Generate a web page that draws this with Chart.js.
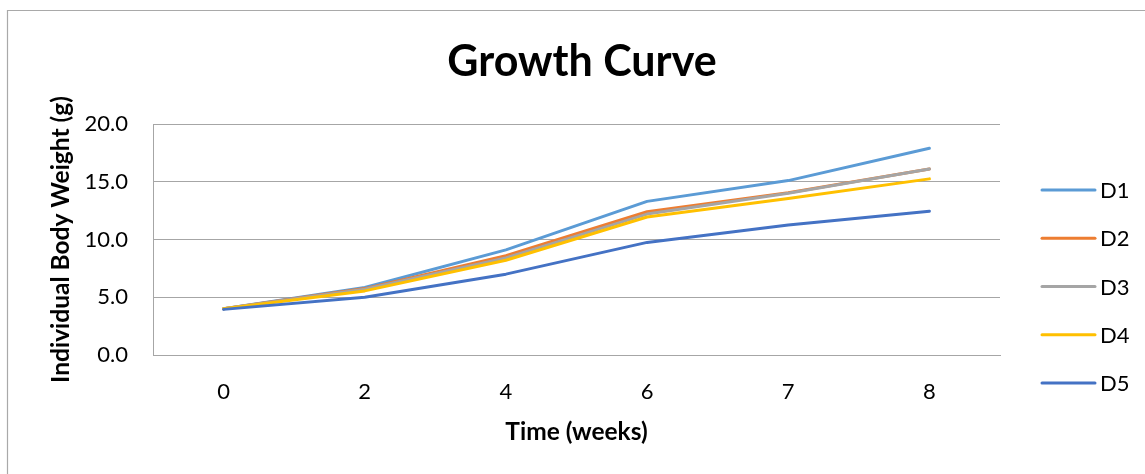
<!DOCTYPE html>
<html>
<head>
<meta charset="utf-8">
<title>Growth Curve</title>
<script src="https://cdn.jsdelivr.net/npm/chart.js@4.4.1/dist/chart.umd.min.js"></script>
<style>
  html, body { margin: 0; padding: 0; background: #ffffff; }
  canvas { display: block; }
</style>
</head>
<body>
<canvas id="growth" width="1145" height="474"></canvas>
<script>
// Sampling weeks
const weeks = ['0', '2', '4', '6', '7', '8'];

// Individual body weight (g) per group
const d1 = [4.0, 5.85, 9.1, 13.3, 15.1, 17.9];
const d2 = [4.0, 5.75, 8.6, 12.4, 14.05, 16.1];
const d3 = [4.0, 5.7, 8.4, 12.2, 14.0, 16.1];
const d4 = [4.0, 5.55, 8.2, 11.95, 13.55, 15.25];
const d5 = [3.95, 5.0, 7.0, 9.75, 11.25, 12.45];

const seriesNames = ['D1', 'D2', 'D3', 'D4', 'D5'];
const seriesColors = ['#5B9BD5', '#ED7D31', '#A5A5A5', '#FFC000', '#4472C4'];

// Weight axis ticks
const yMin = 0;
const yMax = 20;
const yStep = 5;

const FONT = 'Lato, "Open Sans", sans-serif';
const GRID = '#a6a6a6';

const datasets = [d1, d2, d3, d4, d5].map((values, i) => ({
  label: seriesNames[i],
  data: values,
  borderColor: seriesColors[i],
  backgroundColor: seriesColors[i],
  borderWidth: 3,
  borderCapStyle: 'round',
  borderJoinStyle: 'round',
  pointRadius: 0,
  pointHoverRadius: 0,
  tension: 0,
  fill: false,
  order: 5 - i   // later series are drawn above earlier ones
}));

// Thin frame around the chart
const framePlugin = {
  id: 'frame',
  beforeDraw(chart) {
    const ctx = chart.ctx;
    ctx.save();
    ctx.fillStyle = '#ffffff';
    ctx.fillRect(0, 0, chart.width, chart.height);
    ctx.strokeStyle = '#a9a9a9';
    ctx.lineWidth = 1.2;
    ctx.beginPath();
    ctx.moveTo(7.5, chart.height);
    ctx.lineTo(7.5, 10.5);
    ctx.lineTo(chart.width, 10.5);
    ctx.stroke();
    ctx.restore();
  }
};

// Series key on the right-hand side
const keyPlugin = {
  id: 'seriesKey',
  afterDraw(chart) {
    const ctx = chart.ctx;
    const x0 = 1042, x1 = 1095, textX = 1100;
    const firstY = 190, gap = 48.25;
    ctx.save();
    ctx.font = '22px ' + FONT;
    ctx.textAlign = 'left';
    ctx.textBaseline = 'middle';
    chart.data.datasets.forEach((ds, i) => {
      const y = firstY + i * gap;
      ctx.strokeStyle = ds.borderColor;
      ctx.lineWidth = 3;
      ctx.lineCap = 'round';
      ctx.beginPath();
      ctx.moveTo(x0, y);
      ctx.lineTo(x1, y);
      ctx.stroke();
      ctx.fillStyle = '#000000';
      ctx.fillText(ds.label, textX, y + 1);
    });
    ctx.restore();
  }
};

new Chart(document.getElementById('growth'), {
  type: 'line',
  data: { labels: weeks, datasets },
  plugins: [framePlugin, keyPlugin],
  options: {
    responsive: false,
    animation: false,
    events: [],
    layout: { padding: { left: 20, right: 1, top: 0, bottom: 0 } },
    plugins: {
      legend: { display: false },
      tooltip: { enabled: false },
      title: {
        display: true,
        text: 'Growth Curve',
        color: '#000000',
        font: { family: FONT, size: 43, weight: 'bold', lineHeight: 1.2 },
        padding: { top: 36, bottom: 36.4 }
      }
    },
    scales: {
      x: {
        type: 'category',
        offset: true,
        grid: { display: false, drawTicks: false },
        border: { display: true, color: GRID, width: 1 },
        ticks: {
          color: '#000000',
          font: { family: FONT, size: 22 },
          padding: 24,
          maxRotation: 0
        },
        title: {
          display: true,
          text: 'Time (weeks)',
          color: '#000000',
          font: { family: FONT, size: 24.5, weight: 'bold', lineHeight: 1.2 },
          padding: { top: 0, bottom: 27.5 }
        },
        afterFit(scale) { scale.height = 119; }
      },
      y: {
        type: 'linear',
        position: 'left',
        min: yMin,
        max: yMax,
        grid: { color: GRID, lineWidth: 1, drawTicks: false },
        border: { display: true, color: GRID, width: 1 },
        ticks: {
          stepSize: yStep,
          color: '#000000',
          font: { family: FONT, size: 22 },
          padding: 25,
          callback: v => Number(v).toFixed(1)
        },
        title: {
          display: true,
          text: 'Individual Body Weight (g)',
          color: '#000000',
          font: { family: FONT, size: 24.5, weight: 'bold', lineHeight: 1.2 },
          padding: { top: 26, bottom: 0 }
        },
        afterFit(scale) { scale.width = 133; }
      },
      keySpace: {
        type: 'linear',
        position: 'right',
        display: true,
        grid: { display: false, drawTicks: false },
        border: { display: false },
        ticks: { display: false },
        afterFit(scale) { scale.width = 144; }
      }
    }
  }
});
</script>
</body>
</html>
